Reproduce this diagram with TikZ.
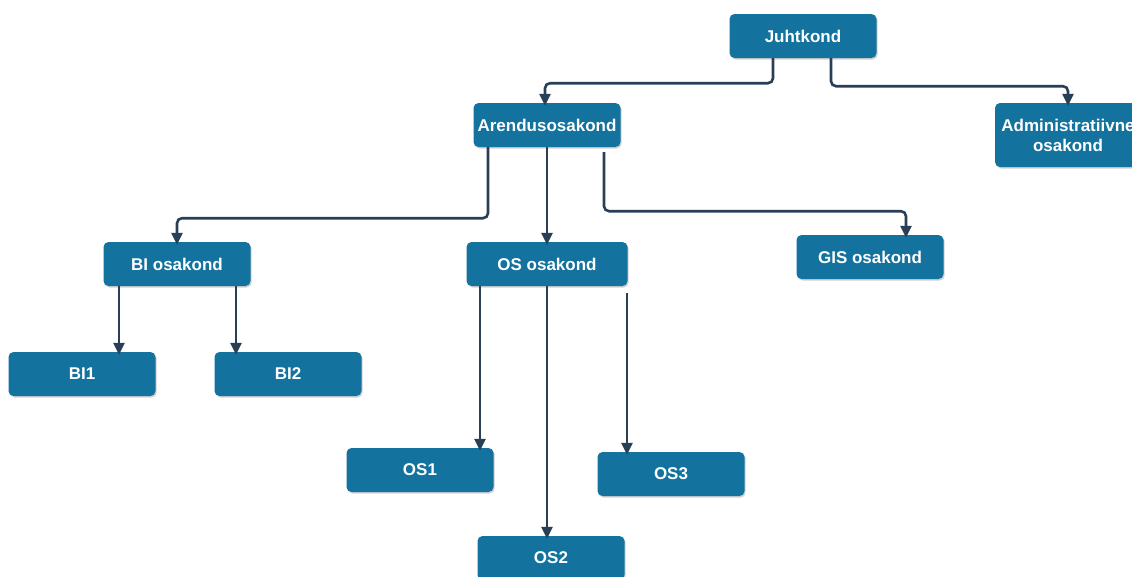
\documentclass[tikz,border=0pt]{standalone}
\usepackage{fontspec}
\setmainfont{Liberation Sans}
\usepackage{xcolor}
\usepackage{tikz}
\usetikzlibrary{arrows.meta,shadows}

\definecolor{unitblue}{RGB}{19,114,158}
\definecolor{linkcol}{RGB}{41,63,86}

\begin{document}
\begin{tikzpicture}[x=1pt, y=-1pt,
      unit/.style={rectangle, rounded corners=5pt, fill=unitblue, text=white, font=\fontsize{17}{20}\selectfont\bfseries,
        minimum width=147pt, minimum height=44pt, align=center, inner sep=0pt,
        drop shadow={shadow xshift=1.2pt, shadow yshift=-1.5pt, fill=black!30, opacity=0.6}},
      link/.style={draw=linkcol, line width=2.6pt, rounded corners=5pt, shorten >=-3pt,
        -{Triangle[width=11pt,length=12pt]}}]
    \useasboundingbox (0,0) rectangle (1132,576);

    \node[unit] (juht) at (803,36) {Juhtkond};
    \node[unit] (arend) at (547,125) {Arendusosakond};
    \node[unit, minimum width=146pt, minimum height=64pt] (admin) at (1068,135) {Administratiivne\\osakond};
    \node[unit] (bi) at (177,264) {BI osakond};
    \node[unit, minimum width=161pt] (os) at (547,264) {OS osakond};
    \node[unit] (gis) at (870,257) {GIS osakond};
    \node[unit] (bi1) at (82,374) {BI1};
    \node[unit] (bi2) at (288,374) {BI2};
    \node[unit] (os1) at (420,470) {OS1};
    \node[unit] (os2) at (551,558) {OS2};
    \node[unit] (os3) at (671,474) {OS3};

    % juhtkond
    \draw[link] ([xshift=-30pt]juht.south) -- ++(0,25) -| ([xshift=-2pt]arend.north);
    \draw[link] ([xshift=28pt]juht.south) -- ++(0,28) -| (admin.north);

    % arendusosakond
    \draw[link] ([xshift=-59pt]arend.south) -- ++(0,71) -| (bi.north);
    \draw[link] (arend.south) -- (os.north);
    \draw[link] ([xshift=57pt,yshift=-5pt]arend.south) -- ++(0,59) -| ([xshift=36pt]gis.north);

    % BI
    \draw[link] ([xshift=-58pt]bi.south) -- ([xshift=-58pt]bi.south |- bi1.north);
    \draw[link] ([xshift=59pt]bi.south) -- ([xshift=59pt]bi.south |- bi2.north);

    % OS
    \draw[link] ([xshift=-67pt]os.south) -- ([xshift=-67pt]os.south |- os1.north);
    \draw[link] (os.south) -- (os.south |- os2.north);
    \draw[link] ([xshift=80pt,yshift=-7pt]os.south) -- ([xshift=80pt]os.south |- os3.north);
  \end{tikzpicture}
\end{document}
